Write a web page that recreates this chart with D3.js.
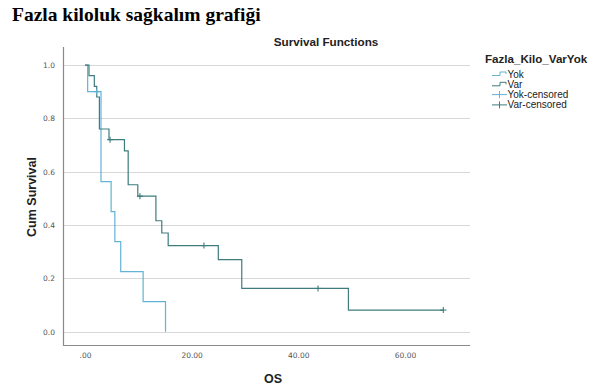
<!DOCTYPE html>
<html><head><meta charset="utf-8">
<script src="https://cdn.jsdelivr.net/npm/d3@7"></script>
<style>
body{margin:0;background:#fff;}
svg{display:block;}
</style></head>
<body>
<svg id="c" width="600" height="391"></svg>
<script>
// ---- data ----
const groups = ["Yok", "Var"];
const yokTimes = [0, 0.5, 3.0, 4.9, 5.6, 6.7, 10.9, 15.1];
const yokSurv  = [1.0, 0.9, 0.5625, 0.45, 0.3375, 0.225, 0.1125, 0.0];
const yokCensorTimes = [2.2];
const yokCensorSurv  = [0.9];
const varTimes = [0, 0.75, 1.75, 2.2, 2.7, 4.5, 7.4, 8.1, 9.9, 13.3, 14.4, 15.6, 25.0, 29.4, 49.4, 67.2];
const varSurv  = [1.0, 0.96, 0.92, 0.88, 0.76, 0.72, 0.678, 0.551, 0.508, 0.416, 0.370, 0.323, 0.270, 0.162, 0.081, 0.081];
const varCensorTimes = [4.7, 10.3, 22.3, 43.7, 67.2];
const varCensorSurv  = [0.72, 0.508, 0.323, 0.162, 0.081];
const xTicks = [0, 20, 40, 60];
const xTickLabels = [".00", "20.00", "40.00", "60.00"];
const yTicks = [0, 0.2, 0.4, 0.6, 0.8, 1.0];
const legendLabels = ["Yok", "Var", "Yok-censored", "Var-censored"];

const colors = {Yok: "#62b3d6", Var: "#3e7c7e"};

const svg = d3.select("#c");
const pLeft = 63, pRight = 470, pTop = 47, pBottom = 345;
const x = d3.scaleLinear().domain([-4.125, 72.2]).range([pLeft, pRight]);
const y = d3.scaleLinear().domain([-0.05, 1.0676]).range([pBottom, pTop]);

// title
svg.append("text").attr("x", 12).attr("y", 21)
  .attr("font-family", "Liberation Serif, Times New Roman, serif")
  .attr("font-weight", "bold").attr("font-size", 19.5).attr("fill", "#000")
  .text("Fazla kiloluk sağkalım grafiği");

svg.append("text").attr("x", 326).attr("y", 46)
  .attr("text-anchor", "middle")
  .attr("font-family", "Liberation Sans, Arial, sans-serif")
  .attr("font-weight", "bold").attr("font-size", 11.7).attr("fill", "#222")
  .text("Survival Functions");

// gridlines
svg.append("g").selectAll("line").data(yTicks).join("line")
  .attr("x1", pLeft).attr("x2", pRight)
  .attr("y1", d => Math.round(y(d)) + 0.5).attr("y2", d => Math.round(y(d)) + 0.5)
  .attr("stroke", "#d8d8d8").attr("stroke-width", 1.2);

// axes
const yAxis = d3.axisLeft(y).tickValues(yTicks).tickFormat(d3.format(".1f")).tickSize(0).tickPadding(8);
const gy = svg.append("g").attr("transform", `translate(${pLeft},0)`).call(yAxis);
const xAxis = d3.axisBottom(x).tickValues(xTicks).tickFormat((d, i) => xTickLabels[i]).tickSize(0).tickPadding(8);
const gx = svg.append("g").attr("transform", `translate(0,${pBottom})`).call(xAxis);
[gx, gy].forEach(g => {
  g.select(".domain").remove();
  g.selectAll("text").attr("font-family", "DejaVu Sans, sans-serif").attr("font-size", 7.5).attr("fill", "#555");
});
// axis lines
svg.append("line").attr("x1", pLeft + 0.5).attr("x2", pLeft + 0.5).attr("y1", pTop).attr("y2", pBottom + 0.5)
  .attr("stroke", "#8a8a8a").attr("stroke-width", 1.2);
svg.append("line").attr("x1", pLeft).attr("x2", pRight).attr("y1", pBottom + 0.5).attr("y2", pBottom + 0.5)
  .attr("stroke", "#8a8a8a").attr("stroke-width", 1.2);

// axis titles
svg.append("text").attr("transform", "translate(36,197) rotate(-90)")
  .attr("text-anchor", "middle")
  .attr("font-family", "Liberation Sans, Arial, sans-serif")
  .attr("font-weight", "bold").attr("font-size", 12.5).attr("fill", "#222")
  .text("Cum Survival");
svg.append("text").attr("x", 273).attr("y", 383)
  .attr("text-anchor", "middle")
  .attr("font-family", "Liberation Sans, Arial, sans-serif")
  .attr("font-weight", "bold").attr("font-size", 12.5).attr("fill", "#222")
  .text("OS");

// survival curves
const line = d3.line().x(d => x(d[0])).y(d => y(d[1])).curve(d3.curveStepAfter);
const series = [
  {name: "Yok", pts: d3.zip(yokTimes, yokSurv), cens: d3.zip(yokCensorTimes, yokCensorSurv)},
  {name: "Var", pts: d3.zip(varTimes, varSurv), cens: d3.zip(varCensorTimes, varCensorSurv)}
];
series.forEach(s => {
  svg.append("path").attr("d", line(s.pts)).attr("fill", "none")
    .attr("stroke", colors[s.name]).attr("stroke-width", 1.2);
});
series.forEach(s => {
  const g = svg.append("g");
  s.cens.forEach(c => {
    const cx = x(c[0]), cy = y(c[1]);
    g.append("line").attr("x1", cx).attr("x2", cx).attr("y1", cy - 3).attr("y2", cy + 3)
      .attr("stroke", colors[s.name]).attr("stroke-width", 1.1);
    g.append("line").attr("x1", cx - 3).attr("x2", cx + 3).attr("y1", cy).attr("y2", cy)
      .attr("stroke", colors[s.name]).attr("stroke-width", 1.1);
  });
});

// legend
const lg = svg.append("g");
lg.append("text").attr("x", 485).attr("y", 63)
  .attr("font-family", "Liberation Sans, Arial, sans-serif")
  .attr("font-weight", "bold").attr("font-size", 11.6).attr("fill", "#222")
  .text("Fazla_Kilo_VarYok");
legendLabels.forEach((lab, i) => {
  const ly = 74 + i * 10.3;
  const col = colors[groups[i % 2]];
  if (i < 2) {
    lg.append("path").attr("d", `M492,${ly + 1.5}H500V${ly - 2}H506V${ly}`)
      .attr("fill", "none").attr("stroke", col).attr("stroke-width", 1);
  } else {
    lg.append("line").attr("x1", 492).attr("x2", 507).attr("y1", ly).attr("y2", ly).attr("stroke", col).attr("stroke-width", 1);
    lg.append("line").attr("x1", 499.5).attr("x2", 499.5).attr("y1", ly - 3.5).attr("y2", ly + 3.5).attr("stroke", col).attr("stroke-width", 1);
  }
  lg.append("text").attr("x", 507.5).attr("y", ly + 3.5)
    .attr("font-family", "Liberation Sans, Arial, sans-serif")
    .attr("font-size", 10).attr("fill", "#222").text(lab);
});
</script>
</body></html>
